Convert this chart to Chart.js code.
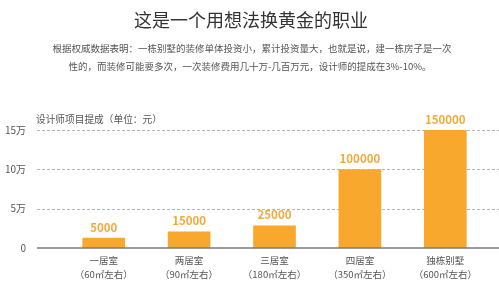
<!DOCTYPE html>
<html>
<head>
<meta charset="utf-8">
<script src="https://cdn.jsdelivr.net/npm/chart.js@4/dist/chart.umd.min.js"></script>
<style>
html,body{margin:0;padding:0;background:#fff;}
#c{display:block;}
</style>
</head>
<body>
<canvas id="c" width="499" height="289"></canvas>
<script>
const titleText = '这是一个用想法换黄金的职业';
const subtitleLines = [
  '根据权威数据表明：一栋别墅的装修单体投资小，累计投资量大，也就是说，建一栋房子是一次',
  '性的，而装修可能要多次，一次装修费用几十万-几百万元，设计师的提成在3%-10%。'
];
const axisTitle = '设计师项目提成（单位：元）';
const categories = [
  ['一居室', '（60㎡左右）'],
  ['两居室', '（90㎡左右）'],
  ['三居室', '（180㎡左右）'],
  ['四居室', '（350㎡左右）'],
  ['独栋别墅', '（600㎡左右）']
];
// bar heights as drawn in the picture
const barValues = [13000, 21000, 28500, 100000, 150000];
// value labels as printed above the bars
const valueLabels = ['5000', '15000', '25000', '100000', '150000'];
const yTicks = [0, 50000, 100000, 150000];
const yTickLabels = ['0', '5万', '10万', '15万'];

const FONT = '"Noto Sans CJK SC", "Noto Sans", sans-serif';

const textPlugin = {
  id: 'texts',
  beforeDraw(chart) {
    const ctx = chart.ctx;
    ctx.save();
    ctx.fillStyle = '#333';
    ctx.font = '18px ' + FONT;
    ctx.textAlign = 'center';
    ctx.textBaseline = 'middle';
    ctx.fillText(titleText, 251, 20);
    ctx.fillStyle = '#555';
    ctx.font = '9.5px ' + FONT;
    ctx.fillText(subtitleLines[0], 252, 48);
    ctx.fillText(subtitleLines[1], 250, 66);
    ctx.textAlign = 'left';
    ctx.font = '9.7px ' + FONT;
    ctx.fillText(axisTitle, 36, 119.5);
    ctx.restore();
  },
  beforeDatasetsDraw(chart) {
    const ctx = chart.ctx;
    const y = chart.scales.y;
    ctx.save();
    ctx.strokeStyle = '#b5b5b5';
    ctx.lineWidth = 1;
    ctx.setLineDash([3, 2]);
    yTicks.forEach(v => {
      if (v === 0) return;
      const py = Math.round(y.getPixelForValue(v)) + 0.5;
      ctx.beginPath();
      ctx.moveTo(37, py);
      ctx.lineTo(499, py);
      ctx.stroke();
    });
    ctx.restore();
  },
  afterDatasetsDraw(chart) {
    const ctx = chart.ctx;
    const y = chart.scales.y;
    ctx.save();
    ctx.strokeStyle = '#7a7a7a';
    ctx.lineWidth = 1.5;
    const py = y.getPixelForValue(0);
    ctx.beginPath();
    ctx.moveTo(37, py);
    ctx.lineTo(499, py);
    ctx.stroke();
    const meta = chart.getDatasetMeta(0);
    ctx.fillStyle = '#F3A93D';
    ctx.font = 'bold 11.5px ' + FONT;
    ctx.textAlign = 'center';
    ctx.textBaseline = 'middle';
    meta.data.forEach((el, i) => {
      ctx.fillText(valueLabels[i], el.x, el.y - 10.5);
    });
    ctx.restore();
  }
};

new Chart(document.getElementById('c'), {
  type: 'bar',
  data: {
    labels: categories,
    datasets: [{
      data: barValues,
      backgroundColor: '#F9A82E',
      borderWidth: 0,
      categoryPercentage: 1,
      barPercentage: 0.5
    }]
  },
  options: {
    responsive: false,
    animation: false,
    devicePixelRatio: 1,
    layout: { padding: { left: 6, right: 11, top: 130, bottom: 0 } },
    plugins: { legend: { display: false }, tooltip: { enabled: false }, title: { display: false } },
    scales: {
      x: {
        grid: { display: false, drawTicks: false },
        border: { display: false },
        afterFit(s) { s.height = 37; },
        ticks: {
          color: '#555',
          padding: 6,
          font: { family: FONT, size: 9.5, lineHeight: 1.4 },
          maxRotation: 0,
          autoSkip: false
        }
      },
      y: {
        min: 0,
        max: 150000,
        afterFit(s) { s.width = 55; },
        afterBuildTicks(s) { s.ticks = yTicks.map(v => ({ value: v })); },
        grid: { display: false, drawTicks: false },
        border: { display: false },
        ticks: {
          color: '#555',
          padding: 35,
          font: { family: FONT, size: 10 },
          callback(v) { const i = yTicks.indexOf(v); return i >= 0 ? yTickLabels[i] : ''; }
        }
      }
    }
  },
  plugins: [textPlugin]
});
</script>
</body>
</html>
